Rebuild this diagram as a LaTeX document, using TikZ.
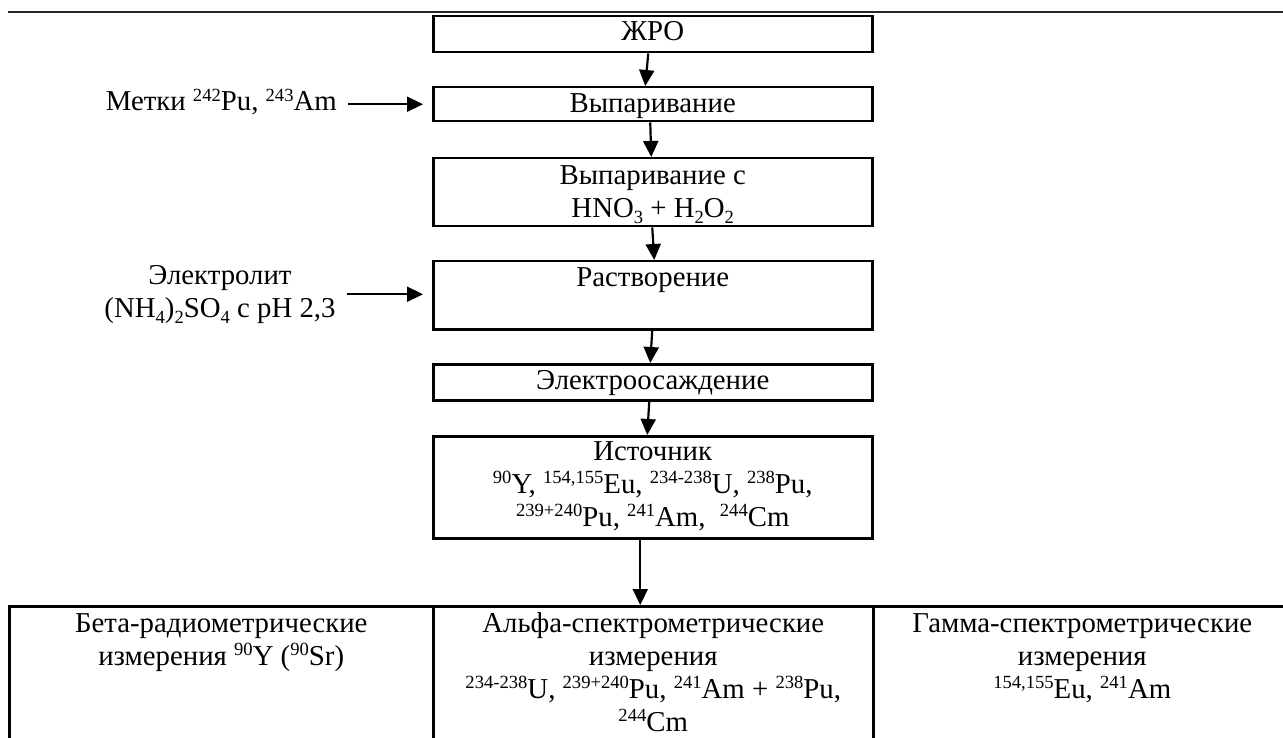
\documentclass[tikz,border=0pt]{standalone}
\usepackage{fontspec}
\setmainfont{Liberation Serif}
\usetikzlibrary{arrows.meta,calc}
\newcommand\isup[1]{\raisebox{0.33em}{\fontsize{18.6}{18.6}\selectfont #1}}
\newcommand\isub[1]{\raisebox{-0.2em}{\fontsize{18.6}{18.6}\selectfont #1}}
\begin{document}
\begin{tikzpicture}[x=1pt,y=-1pt,
  box/.style={draw, line width=2.5pt, minimum width=439pt, inner sep=0pt, anchor=north west},
  txt/.style={inner sep=0pt, align=center, anchor=north, font=\fontsize{28.8}{33}\selectfont},
  arr/.style={line width=2.2pt, -{Triangle[length=16pt,width=15pt]}},
  rulerline/.style={line width=2.2pt, black!85}]
\useasboundingbox (0,0) rectangle (1283,738);
\clip (0,0) rectangle (1283,738);
\draw[rulerline] (8,12) -- (1283,12);
% main column
\node[box, minimum height=36pt] (zhro) at (432,15) {};
\node[box, minimum height=34pt] (vyp) at (432,86) {};
\node[box, minimum height=68pt] (hno) at (432,157) {};
\node[box, minimum height=68pt] (rast) at (432,260) {};
\node[box, minimum height=36pt] (elec) at (432,363) {};
\node[box, minimum height=102pt] (ist) at (432,435) {};
% bottom row
\node[box, minimum width=424pt, minimum height=180pt] (beta) at (8,605) {};
\node[box, minimum width=440pt, minimum height=180pt] (alpha) at (432,605) {};
\node[box, minimum width=418pt, minimum height=180pt] (gamma) at (872,605) {};
% texts
\node[txt] (tzhro) at ($(zhro.north)+(0,2)$) {\strut ЖРО};
\node[txt] (tvyp) at ($(vyp.north)+(0,3)$) {\strut Выпаривание};
\node[txt] (thno) at ($(hno.north)+(0,4)$) {\strut Выпаривание с\\HNO\isub{3} + H\isub{2}O\isub{2}};
\node[txt] (trast) at ($(rast.north)+(0,3)$) {\strut Растворение};
\node[txt] (telec) at ($(elec.north)+(0,3)$) {\strut Электроосаждение};
\node[txt] (tist) at ($(ist.north)+(0,2)$) {\strut Источник\\\isup{90}Y, \isup{154,155}Eu, \isup{234-238}U, \isup{238}Pu,\\\isup{239+240}Pu, \isup{241}Am, \ \isup{244}Cm};
\node[txt] (tbeta) at ($(beta.north)+(0,4)$) {\strut Бета-радиометрические\\измерения \isup{90}Y (\isup{90}Sr)};
\node[txt] (talpha) at ($(alpha.north)+(0,4)$) {\strut Альфа-спектрометрические\\измерения\\\isup{234-238}U, \isup{239+240}Pu, \isup{241}Am + \isup{238}Pu,\\\isup{244}Cm};
\node[txt] (tgamma) at ($(gamma.north)+(0,4)$) {\strut Гамма-спектрометрические\\измерения\\\isup{154,155}Eu, \isup{241}Am};
% side labels
\node[txt, anchor=base east] (metki) at (337,111) {Метки \isup{242}Pu, \isup{243}Am};
\node[txt] (elyt) at (220,261) {\strut Электролит\\(NH\isub{4})\isub{2}SO\isub{4} с pH 2,3};
% arrows
\draw[arr] ([xshift=-4.5pt]zhro.south) -- ([xshift=-7.5pt]vyp.north);
\draw[arr] ([xshift=-2.5pt]vyp.south) -- ([xshift=-1.5pt]hno.north);
\draw[arr] ([xshift=-0.5pt]hno.south) -- ([xshift=1.5pt]rast.north);
\draw[arr] ([xshift=-0.5pt]rast.south) -- ([xshift=-2.5pt]elec.north);
\draw[arr] ([xshift=-3.5pt]elec.south) -- ([xshift=-5.5pt]ist.north);
\draw[arr] ([xshift=-12.5pt]ist.south) -- ([xshift=-13pt]alpha.north);
\draw[arr] ($(vyp.west -| metki.east)+(11,0)$) -- ($(vyp.west)+(-9,0)$);
\draw[arr] ($(rast.west -| elyt.east)+(11,-1)$) -- ($(rast.west)+(-9,-1)$);
\end{tikzpicture}
\end{document}
